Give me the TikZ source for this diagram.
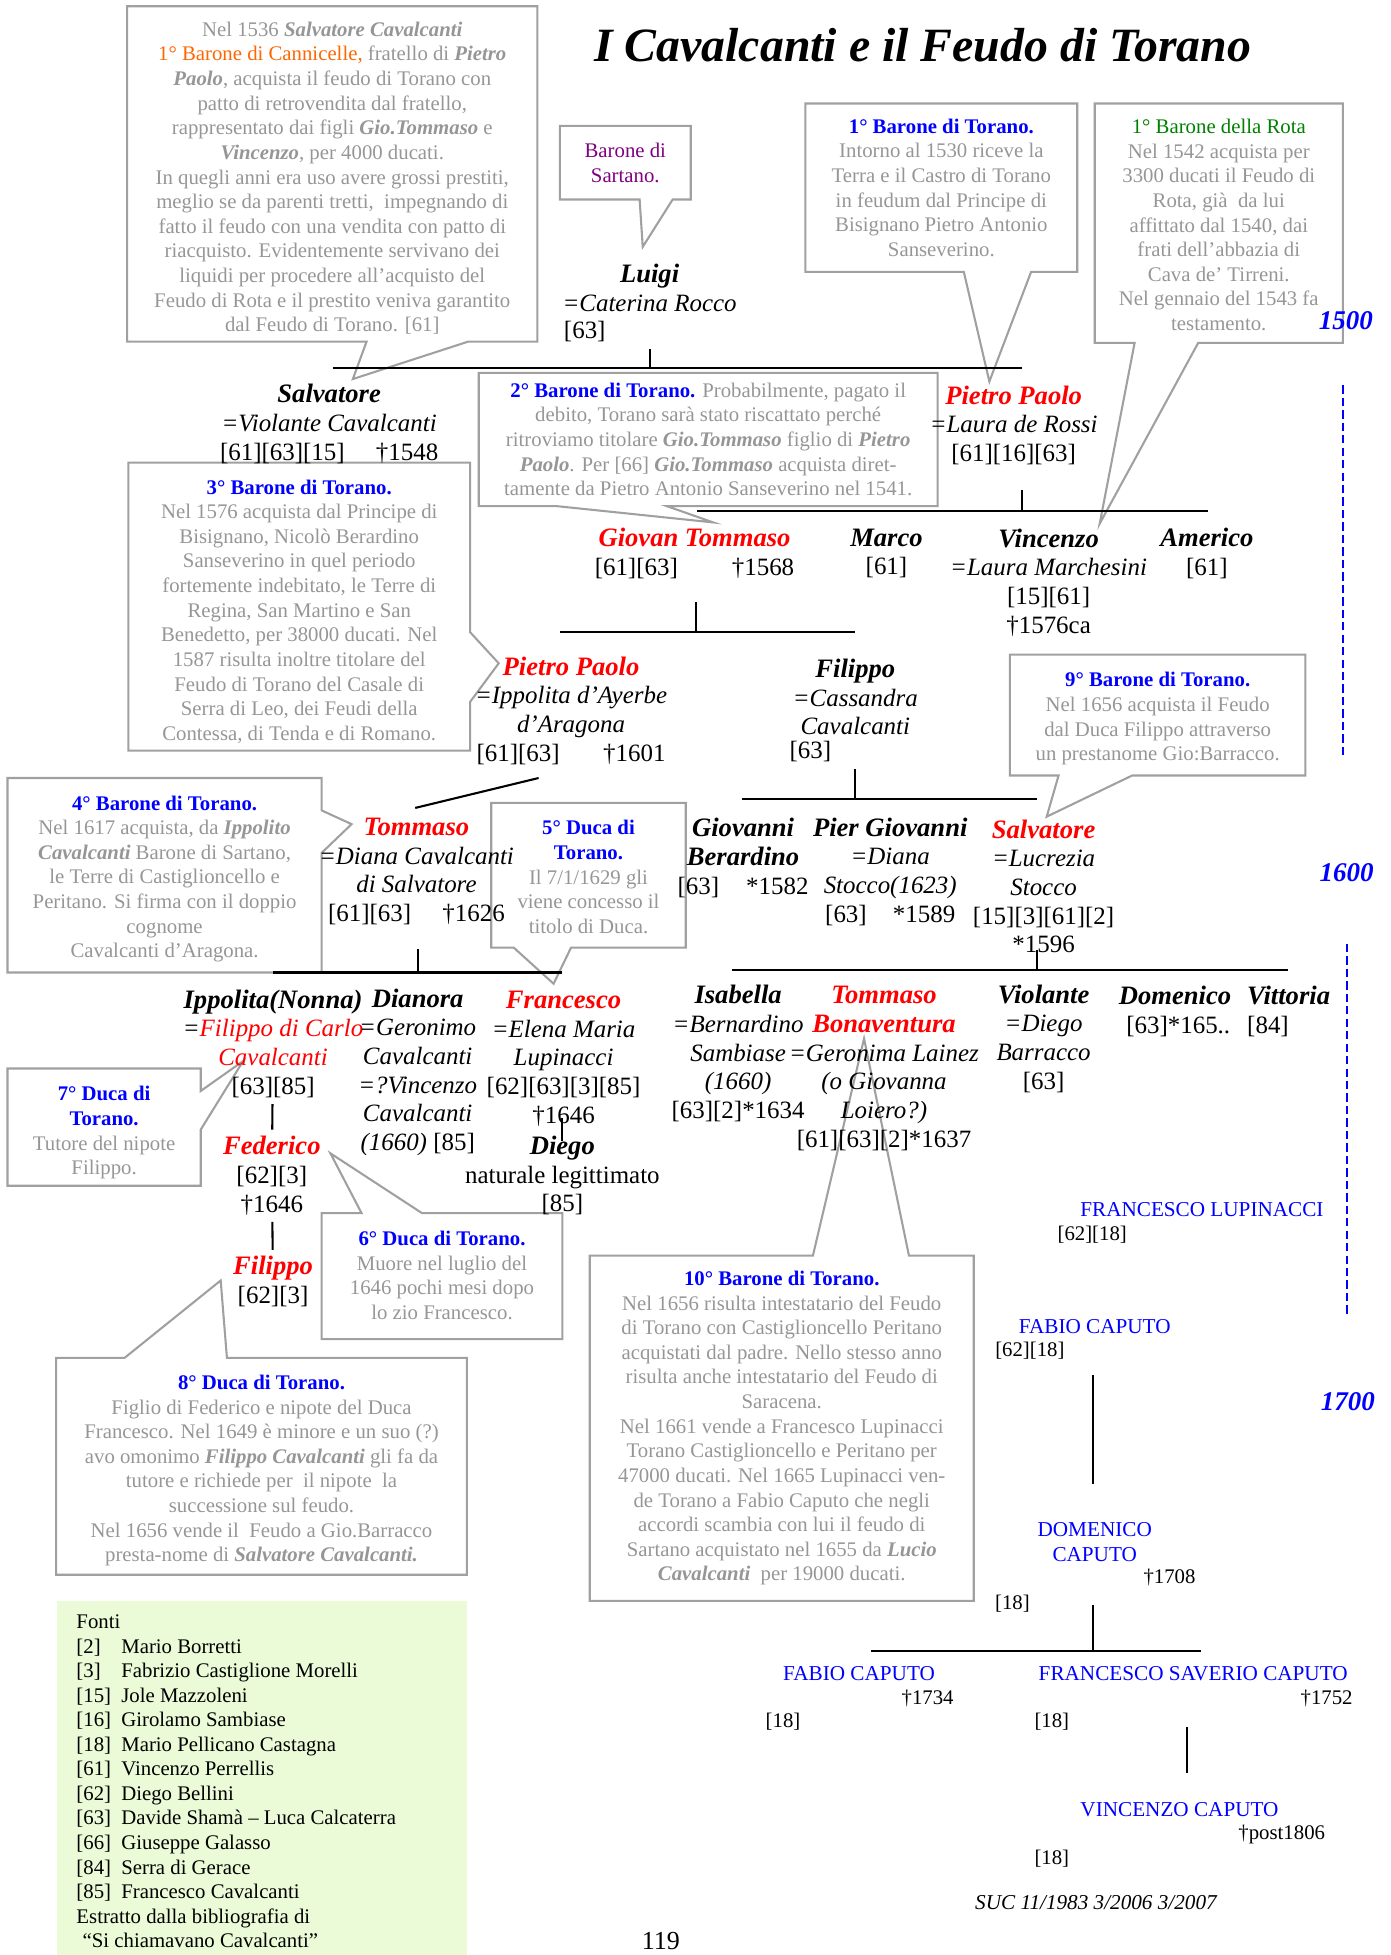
\documentclass[tikz,border=0pt]{standalone}
\usepackage{fontspec}
\setmainfont{Liberation Serif}
\usepackage{xcolor}
\definecolor{notegray}{RGB}{150,150,150}
\definecolor{boxgray}{RGB}{160,160,160}
\definecolor{fontigreen}{RGB}{235,250,215}
\definecolor{cannorange}{RGB}{255,102,0}
\definecolor{sartpurple}{RGB}{128,0,128}
\definecolor{rotagreen}{RGB}{0,128,0}
\newcommand{\pname}[1]{{\fontsize{12.8}{13.8}\selectfont\bfseries\itshape #1}}
\newcommand{\hname}[1]{\textcolor{red}{\pname{#1}}}
\newcommand{\bitext}[1]{\textbf{\textit{#1}}}
\newcommand{\notehead}[1]{\textcolor{blue}{\bfseries #1}}
\newcommand{\fonte}[2]{\makebox[21.6pt][l]{[#1]}#2}
\tikzstyle{note box}=[
        inner sep = 0pt,
        outer sep = 0pt
    ]
\tikzstyle{note}=[
        text = notegray,
        align = center,
        inner sep = 0pt,
        font = \fontsize{10}{11.85}\selectfont
    ]
\tikzstyle{note edge}=[
        draw = boxgray,
        line width = 1pt,
        line join = miter
    ]
\tikzstyle{person}=[
        align = center,
        inner sep = 0pt,
        font = \fontsize{12}{13.8}\selectfont
    ]
\tikzstyle{caputo}=[
        align = center,
        inner sep = 0pt,
        text = blue,
        font = \fontsize{10.2}{12}\selectfont
    ]
\tikzstyle{caputo ref}=[
        inner sep = 0pt,
        font = \fontsize{10}{12}\selectfont
    ]
\tikzstyle{era}=[
        text = blue,
        inner sep = 0pt,
        font = \fontsize{13}{15}\selectfont\bfseries\itshape
    ]
\begin{document}
\begin{tikzpicture}[x=0.6pt, y=-0.6pt, bar/.style = {line width=1pt},
    era line/.style = {draw=blue, line width=1pt, dash pattern=on 4pt off 2pt}]
        \useasboundingbox (0,0) rectangle (1115,1568);

        \node[font=\fontsize{23}{27}\selectfont\bfseries\itshape] (title) at (740,36.5) {I Cavalcanti e il Feudo di Torano};

        % note frames
        \node[note box, minimum width=197.4pt, minimum height=161.4pt] (boxA) at (266.5,139.5) {};
        \node[note box, minimum width=63pt, minimum height=35.4pt] (boxB) at (501.5,130.5) {};
        \node[note box, minimum width=130.8pt, minimum height=81pt] (boxC) at (755,150.5) {};
        \node[note box, minimum width=119.4pt, minimum height=115.2pt] (boxD) at (977.5,179) {};
        \node[note box, minimum width=220.8pt, minimum height=64.2pt] (boxE) at (568,352.5) {};
        \node[note box, minimum width=142.2pt, minimum height=58.2pt] (boxF) at (928.5,573.5) {};
        \node[note box, minimum width=164.4pt, minimum height=138.6pt] (boxG) at (240,486.5) {};
        \node[note box, minimum width=184.8pt, minimum height=166.2pt] (boxH) at (627,1145.5) {};
        \node[note box, minimum width=197.7pt, minimum height=104.4pt] (boxI) at (209.75,1176) {};
        \node[note box, minimum width=151.2pt, minimum height=93.6pt] (boxJ) at (132,702) {};
        \node[note box, minimum width=93.6pt, minimum height=69.6pt] (boxK) at (472,702) {};
        \node[note box, minimum width=93pt, minimum height=56.4pt] (boxL) at (83.5,904) {};
        \node[note box, minimum width=115.8pt, minimum height=60.6pt] (boxM) at (354.5,1023.5) {};

        % note pointers
        \coordinate (tipA) at (283,304);
        \coordinate (tipB) at (515.5,198);
        \coordinate (tipC) at (793.5,306);
        \coordinate (tipD) at (882,420);
        \coordinate (tipE) at (572,419);
        \coordinate (tipF) at (839.5,655);
        \coordinate (tipG) at (400,532);
        \coordinate (tipH) at (693,833);
        \coordinate (tipI) at (177,1027);
        \coordinate (tipJ) at (282,661);
        \coordinate (tipK) at (444,789);
        \coordinate (tipL) at (195,851);
        \coordinate (tipM) at (265,925);

        \draw[note edge] (boxA.north west) -- (boxA.north east) -- (boxA.south east) -- (375.5,274) -- (tipA) -- (294,274) -- (boxA.south west) -- cycle;
        \draw[note edge] (boxB.north west) -- (boxB.north east) -- (boxB.south east) -- (539.5,160) -- (tipB) -- (513,160) -- (boxB.south west) -- cycle;
        \draw[note edge] (boxC.north west) -- (boxC.north east) -- (boxC.south east) -- (827,218) -- (tipC) -- (773,218) -- (boxC.south west) -- cycle;
        \draw[note edge] (boxD.north west) -- (boxD.north east) -- (boxD.south east) -- (961,275) -- (tipD) -- (910,275) -- (boxD.south west) -- cycle;
        \draw[note edge] (boxE.north west) -- (boxE.north east) -- (boxE.south east) -- (535,406) -- (tipE) -- (447,406) -- (boxE.south west) -- cycle;
        \draw[note edge] (boxF.north west) -- (boxF.north east) -- (boxF.south east) -- (908,622) -- (tipF) -- (849,622) -- (boxF.south west) -- cycle;
        \draw[note edge] (boxG.north west) -- (boxG.north east) -- (377,507) -- (tipG) -- (377,563) -- (boxG.south east) -- (boxG.south west) -- cycle;
        \draw[note edge] (boxH.north west) -- (652,1007) -- (tipH) -- (729,1007) -- (boxH.north east) -- (boxH.south east) -- (boxH.south west) -- cycle;
        \draw[note edge] (boxI.north west) -- (100,1089) -- (tipI) -- (182,1089) -- (boxI.north east) -- (boxI.south east) -- (boxI.south west) -- cycle;
        \draw[note edge] (boxJ.north west) -- (boxJ.north east) -- (258,650) -- (tipJ) -- (258,684) -- (boxJ.south east) -- (boxJ.south west) -- cycle;
        \draw[note edge] (boxK.north west) -- (boxK.north east) -- (boxK.south east) -- (458,760) -- (tipK) -- (412,760) -- (boxK.south west) -- cycle;
        \draw[note edge] (boxL.north west) -- (boxL.north east) -- (161,875) -- (tipL) -- (161,906) -- (boxL.south east) -- (boxL.south west) -- cycle;
        \draw[note edge] (boxM.north west) -- (290,973) -- (tipM) -- (338.5,973) -- (boxM.north east) -- (boxM.south east) -- (boxM.south west) -- cycle;

        % note texts
        \node[note] (noteA) at (266.5,143) {Nel 1536 \bitext{Salvatore Cavalcanti}\\
            \textcolor{cannorange}{1° Barone di Cannicelle,} fratello di \bitext{Pietro}\\
            \bitext{Paolo}, acquista il feudo di Torano con\\
            patto di retrovendita dal fratello,\\
            rappresentato dai figli \bitext{Gio.Tommaso} e\\
            \bitext{Vincenzo}, per 4000 ducati.\\
            In quegli anni era uso avere grossi prestiti,\\
            meglio se da parenti tretti,\ \ impegnando di\\
            fatto il feudo con una vendita con patto di\\
            riacquisto. Evidentemente servivano dei\\
            liquidi per procedere all’acquisto del\\
            Feudo di Rota e il prestito veniva garantito\\
            dal Feudo di Torano. [61]};
        \node[note, text=sartpurple] (noteB) at (501.5,130.5) {Barone di\\Sartano.};
        \node[note] (noteC) at (755,150.5) {\notehead{1° Barone di Torano.}\\
            Intorno al 1530 riceve la\\Terra e il Castro di Torano\\in feudum dal Principe di\\Bisignano Pietro Antonio\\Sanseverino.};
        \node[note] (noteD) at (977.5,180.5) {\textcolor{rotagreen}{1° Barone della Rota}\\
            Nel 1542 acquista per\\3300 ducati il Feudo di\\Rota, già\ \ da lui\\affittato dal 1540, dai\\frati dell’abbazia di\\Cava de’ Tirreni.\\Nel gennaio del 1543 fa\\testamento.};
        \node[note] (noteE) at (568,352.5) {\notehead{2° Barone di Torano.} Probabilmente, pagato il\\
            debito, Torano sarà stato riscattato perché\\
            ritroviamo titolare \bitext{Gio.Tommaso} figlio di \bitext{Pietro}\\
            \bitext{Paolo}. Per [66] \bitext{Gio.Tommaso} acquista diret-\\
            tamente da Pietro Antonio Sanseverino nel 1541.};
        \node[note] (noteF) at (928.5,576.5) {\notehead{9° Barone di Torano.}\\
            Nel 1656 acquista il Feudo\\dal Duca Filippo attraverso\\un prestanome Gio:Barracco.};
        \node[note] (noteG) at (240,490.5) {\notehead{3° Barone di Torano.}\\
            Nel 1576 acquista dal Principe di\\Bisignano, Nicolò Berardino\\Sanseverino in quel periodo\\
            fortemente indebitato, le Terre di\\Regina, San Martino e San\\Benedetto, per 38000 ducati. Nel\\
            1587 risulta inoltre titolare del\\Feudo di Torano del Casale di\\Serra di Leo, dei Feudi della\\
            Contessa, di Tenda e di Romano.};
        \node[note] (noteH) at (627,1145.5) {\notehead{10° Barone di Torano.}\\
            Nel 1656 risulta intestatario del Feudo\\di Torano con Castiglioncello Peritano\\
            acquistati dal padre. Nello stesso anno\\risulta anche intestatario del Feudo di\\Saracena.\\
            Nel 1661 vende a Francesco Lupinacci\\Torano Castiglioncello e Peritano per\\
            47000 ducati. Nel 1665 Lupinacci ven-\\de Torano a Fabio Caputo che negli\\
            accordi scambia con lui il feudo di\\Sartano acquistato nel 1655 da \bitext{Lucio}\\
            \bitext{Cavalcanti}\ \ per 19000 ducati.};
        \node[note] (noteI) at (209.75,1179.5) {\notehead{8° Duca di Torano.}\\
            Figlio di Federico e nipote del Duca\\Francesco. Nel 1649 è minore e un suo (?)\\
            avo omonimo \bitext{Filippo Cavalcanti} gli fa da\\tutore e richiede per\ \ il nipote\ \ la\\
            successione sul feudo.\\Nel 1656 vende il\ \ Feudo a Gio.Barracco\\
            presta-nome di \bitext{Salvatore Cavalcanti.}};
        \node[note] (noteJ) at (132,705) {\notehead{4° Barone di Torano.}\\
            Nel 1617 acquista, da \bitext{Ippolito}\\\bitext{Cavalcanti} Barone di Sartano,\\
            le Terre di Castiglioncello e\\Peritano. Si firma con il doppio\\cognome\\Cavalcanti d’Aragona.};
        \node[note] (noteK) at (472,703.5) {\notehead{5° Duca di}\\\notehead{Torano.}\\
            Il 7/1/1629 gli\\viene concesso il\\titolo di Duca.};
        \node[note] (noteL) at (83.5,908.5) {\notehead{7° Duca di}\\\notehead{Torano.}\\
            Tutore del nipote\\Filippo.};
        \node[note] (noteM) at (354.5,1023) {\notehead{6° Duca di Torano.}\\
            Muore nel luglio del\\1646 pochi mesi dopo\\lo zio Francesco.};

        % family
        \node[person] (luigi) at (521,231) {\pname{Luigi}\\\textit{=Caterina Rocco}};
        \node[person, anchor=west] (luigi-ref) at (452,266) {[63]};
        \node[person] (salvatore) at (264,340) {\pname{Salvatore}\\\textit{=Violante Cavalcanti}\\{}[61][63][15]\hspace{15pt}†1548};
        \node[person] (pietro1) at (813,341) {\hname{Pietro Paolo}\\\textit{=Laura de Rossi}\\{}[61][16][63]};
        \node[person] (giovtom) at (557,444) {\hname{Giovan Tommaso}\\{}[61][63]\hspace{26pt}†1568};
        \node[person] (marco) at (711,444) {\pname{Marco}\\{}[61]};
        \node[person] (vincenzo) at (841,467) {\pname{Vincenzo}\\\textit{=Laura Marchesini}\\{}[15][61]\\†1576ca};
        \node[person] (americo) at (968,444) {\pname{Americo}\\{}[61]};
        \node[person] (pietro2) at (458,570) {\hname{Pietro Paolo}\\\textit{=Ippolita d’Ayerbe}\\\textit{d’Aragona}\\{}[61][63]\hspace{21pt}†1601};
        \node[person] (filippo1) at (686,559) {\pname{Filippo}\\\textit{=Cassandra}\\\textit{Cavalcanti}};
        \node[person] (filippo1-ref) at (650,603) {[63]};
        \node[person] (tommaso1) at (334,699) {\hname{Tommaso}\\\textit{=Diana Cavalcanti}\\\textit{di Salvatore}\\{}[61][63]\hspace{15pt}†1626};
        \node[person] (giovanni) at (596,688) {\pname{Giovanni}\\\pname{Berardino}\\{}[63]\hspace{13pt}*1582};
        \node[person] (piergiov) at (714,699) {\pname{Pier Giovanni}\\\textit{=Diana}\\\textit{Stocco(1623)}\\{}[63]\hspace{12.6pt}*1589};
        \node[person] (salvatore2) at (837,711) {\hname{Salvatore}\\\textit{=Lucrezia}\\\textit{Stocco}\\{}[15][3][61][2]\\*1596};
        \node[person] (ippolita) at (219,837) {\pname{Ippolita(Nonna)}\\\textit{=\textcolor{red}{Filippo di Carlo}}\\\textit{\textcolor{red}{Cavalcanti}}\\{}[63][85]};
        \node[person] (dianora) at (335,860) {\pname{Dianora}\\\textit{=Geronimo}\\\textit{Cavalcanti}\\\textit{=?Vincenzo}\\\textit{Cavalcanti}\\\textit{(1660)} [85]};
        \node[person] (francesco) at (452,849) {\hname{Francesco}\\\textit{=Elena Maria}\\\textit{Lupinacci}\\{}[62][63][3][85]\\†1646};
        \node[person] (diego) at (451,943) {\pname{Diego}\\naturale legittimato\\{}[85]};
        \node[person] (federico) at (218,943) {\hname{Federico}\\{}[62][3]\\†1646};
        \node[person] (filippo2) at (219,1028) {\hname{Filippo}\\{}[62][3]};
        \node[person] (isabella) at (592,845) {\pname{Isabella}\\\textit{=Bernardino}\\\textit{Sambiase}\\\textit{(1660)}\\{}[63][2]*1634};
        \node[person] (tommaso2) at (709,857) {\hname{Tommaso}\\\hname{Bonaventura}\\\textit{=Geronima Lainez}\\\textit{(o Giovanna}\\\textit{Loiero?)}\\{}[61][63][2]*1637};
        \node[person] (violante) at (837,833) {\pname{Violante}\\\textit{=Diego}\\\textit{Barracco}\\{}[63]};
        \node[person, align=left, anchor=west] (domenico) at (897,811) {\pname{Domenico}\\\hspace{3.6pt}[63]*165..};
        \node[person, align=left, anchor=west] (vittoria) at (1000,811) {\pname{Vittoria}\\{}[84]};

        % Caputo
        \node[caputo] (lupinacci) at (964,970) {FRANCESCO LUPINACCI};
        \node[caputo ref] (lupinacci-ref) at (876,990) {[62][18]};
        \node[caputo] (fabio1) at (878,1064) {FABIO CAPUTO};
        \node[caputo ref] (fabio1-ref) at (826,1083) {[62][18]};
        \node[caputo] (domcap) at (878,1237) {DOMENICO\\CAPUTO};
        \node[caputo ref] (domcap-date) at (938,1265.5) {†1708};
        \node[caputo ref] (domcap-ref) at (812,1286) {[18]};
        \node[caputo] (fabio2) at (689,1342) {FABIO CAPUTO};
        \node[caputo ref] (fabio2-date) at (744,1362) {†1734};
        \node[caputo ref] (fabio2-ref) at (628,1381) {[18]};
        \node[caputo] (fsaverio) at (957,1342) {FRANCESCO SAVERIO CAPUTO};
        \node[caputo ref] (fsaverio-date) at (1064,1362) {†1752};
        \node[caputo ref] (fsaverio-ref) at (843.6,1381) {[18]};
        \node[caputo] (vincap) at (946,1451) {VINCENZO CAPUTO};
        \node[caputo ref] (vincap-date) at (1028,1471) {†post1806};
        \node[caputo ref] (vincap-ref) at (843.6,1491) {[18]};
        \node[caputo ref, font=\fontsize{10.2}{12}\selectfont\itshape] (suc) at (879,1526) {SUC 11/1983 3/2006 3/2007};

        % family lines
        \coordinate (luigi-d) at (521,280);   \coordinate (luigi-m) at (521,295);
        \coordinate (luigi-l) at (267,295);   \coordinate (luigi-r) at (820,295);
        \coordinate (pietro1-d) at (820,393); \coordinate (pietro1-m) at (820,410);
        \coordinate (pietro1-l) at (559,410); \coordinate (pietro1-r) at (969,410);
        \coordinate (giovtom-d) at (558,483); \coordinate (giovtom-m) at (558,507);
        \coordinate (giovtom-l) at (449,507); \coordinate (giovtom-r) at (686,507);
        \coordinate (pietro2-l) at (333,648); \coordinate (pietro2-r) at (432,624);
        \coordinate (filippo1-d) at (686,617); \coordinate (filippo1-m) at (686,641);
        \coordinate (filippo1-l) at (595,641); \coordinate (filippo1-r) at (832,641);
        \coordinate (tommaso1-d) at (335,761); \coordinate (tommaso1-m) at (335,780);
        \coordinate (tommaso1-l) at (219,780); \coordinate (tommaso1-r) at (451,780);
        \coordinate (salv2-d) at (832,762);   \coordinate (salv2-m) at (832,778);
        \coordinate (salv2-l) at (587,778);   \coordinate (salv2-r) at (1033,778);
        \coordinate (francesco-d) at (451,897); \coordinate (diego-u) at (451,915);
        \coordinate (fabio1-d) at (876.5,1103); \coordinate (domcap-u) at (876.5,1190);
        \coordinate (domcap-d) at (876.5,1287); \coordinate (domcap-m) at (876.5,1324);
        \coordinate (domcap-l) at (698.5,1324); \coordinate (domcap-r) at (963,1324);
        \coordinate (fsaverio-d) at (952,1385); \coordinate (vincap-u) at (952,1422);

        \draw[bar] (luigi-d) -- (luigi-m);
        \draw[bar] (luigi-l) -- (luigi-r);
        \draw[bar] (pietro1-d) -- (pietro1-m);
        \draw[bar] (pietro1-l) -- (pietro1-r);
        \draw[bar] (giovtom-d) -- (giovtom-m);
        \draw[bar] (giovtom-l) -- (giovtom-r);
        \draw[bar] (pietro2-l) -- (pietro2-r);
        \draw[bar] (filippo1-d) -- (filippo1-m);
        \draw[bar] (filippo1-l) -- (filippo1-r);
        \draw[bar] (tommaso1-d) -- (tommaso1-m);
        \draw[bar] (tommaso1-l) -- (tommaso1-r);
        \draw[bar] (salv2-d) -- (salv2-m);
        \draw[bar] (salv2-l) -- (salv2-r);
        \draw[bar, shorten <=3pt, shorten >=3pt] (ippolita) -- (federico);
        \draw[bar, shorten <=3pt, shorten >=3pt] (federico) -- (filippo2);
        \draw[bar] (francesco-d) -- (diego-u);
        \draw[bar] (fabio1-d) -- (domcap-u);
        \draw[bar] (domcap-d) -- (domcap-m);
        \draw[bar] (domcap-l) -- (domcap-r);
        \draw[bar] (fsaverio-d) -- (vincap-u);

        % centuries
        \node[era] (era1500) at (1079.5,257) {1500};
        \node[era] (era1600) at (1080,700) {1600};
        \node[era] (era1700) at (1081,1124) {1700};
        \coordinate (era-a1) at (1077,309);  \coordinate (era-a2) at (1077,607);
        \coordinate (era-b1) at (1080,757);  \coordinate (era-b2) at (1080,1056);
        \draw[era line] (era-a1) -- (era-a2);
        \draw[era line] (era-b1) -- (era-b2);

        % sources
        \node[fill=fontigreen, minimum width=197.7pt, minimum height=170.4pt, anchor=north west, inner sep=0pt] (fontibox) at (45,1284) {};
        \node[anchor=north west, align=left, inner sep=0pt, font=\fontsize{10}{11.8}\selectfont] (fonti) at (61,1295) {Fonti\\
            \fonte{2}{Mario Borretti}\\
            \fonte{3}{Fabrizio Castiglione Morelli}\\
            \fonte{15}{Jole Mazzoleni}\\
            \fonte{16}{Girolamo Sambiase}\\
            \fonte{18}{Mario Pellicano Castagna}\\
            \fonte{61}{Vincenzo Perrellis}\\
            \fonte{62}{Diego Bellini}\\
            \fonte{63}{Davide Shamà – Luca Calcaterra}\\
            \fonte{66}{Giuseppe Galasso}\\
            \fonte{84}{Serra di Gerace}\\
            \fonte{85}{Francesco Cavalcanti}\\
            Estratto dalla bibliografia di\\
            \hspace{3pt}“Si chiamavano Cavalcanti”};

        \node[font=\fontsize{12.5}{14}\selectfont] (pagenum) at (530,1557) {119};

    \end{tikzpicture}
\end{document}
